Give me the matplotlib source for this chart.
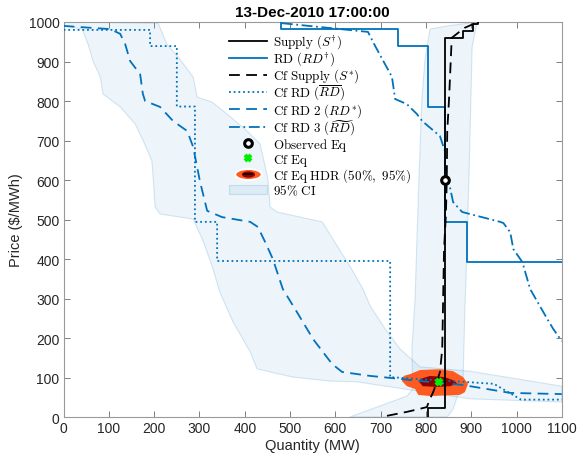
import numpy as np
import matplotlib.pyplot as plt
from matplotlib.lines import Line2D
from matplotlib.patches import Patch
from matplotlib.markers import MarkerStyle
from matplotlib.transforms import Affine2D
from matplotlib.legend_handler import HandlerTuple

plt.rcParams['font.family'] = ['Liberation Sans', 'DejaVu Sans']
plt.rcParams['mathtext.fontset'] = 'cm'

# ---- data (MW, $/MWh) ----
supply_q = [805, 805, 842, 842, 882, 882, 904, 904, 915, 915]
supply_p = [0, 23, 23, 960, 960, 978, 978, 995, 995, 1010]

rd_q = [480, 480, 739, 739, 805, 805, 842, 842, 891, 891, 1100]
rd_p = [1010, 982, 982, 939, 939, 786, 786, 494, 494, 393, 393]

cf_supply_q = [714, 758, 802, 809, 816, 824, 831, 836, 838, 840, 844, 846, 847, 851, 857, 885, 915]
cf_supply_p = [3, 13, 25, 46, 63, 89, 114, 172, 300, 425, 509, 600, 722, 805, 960, 985, 1000]

cf_rd_q = [0, 191, 191, 250, 250, 290, 290, 339, 339, 721, 721, 800, 870, 950, 1010, 1100]
cf_rd_p = [980, 980, 939, 939, 786, 786, 494, 494, 395, 395, 101, 95, 90, 84, 44, 44]

cf_rd2_q = [0, 103, 125, 136, 147, 169, 175, 180, 213, 242, 273, 286, 301, 317, 350, 412, 429,
            445, 462, 484, 515, 551, 593, 615, 677, 721, 787, 882, 986, 1100]
cf_rd2_p = [990, 982, 970, 944, 901, 868, 818, 800, 785, 749, 724, 684, 597, 522, 506, 494, 481,
            443, 400, 324, 266, 197, 134, 114, 104, 99, 91, 81, 61, 58]

cf_rd3_q = [482, 672, 688, 725, 732, 758, 780, 792, 831, 842, 842, 853, 860, 880, 964, 971, 986,
            993, 1013, 1030, 1068, 1081, 1100]
cf_rd3_p = [997, 975, 939, 861, 805, 792, 767, 749, 711, 673, 600, 582, 544, 519, 494, 491, 468,
            425, 392, 324, 248, 223, 192]

obs_eq = (842, 600)
cf_eq = (829, 89)

# HDR regions (95% outer, 50% inner)
hdr95_q = [766, 787, 832, 860, 882, 893, 886, 875, 809, 783, 776, 758, 747, 751]
hdr95_p = [109, 119, 121, 116, 101, 84, 63, 56, 53, 56, 71, 78, 91, 104]
hdr50_q = [787, 809, 842, 864, 869, 853, 824, 793, 785]
hdr50_p = [96, 104, 101, 91, 84, 78, 76, 78, 89]

# 95% CI bands
ci_d_q = [0, 209, 228, 253, 286, 295, 328, 361, 405, 434, 451, 456, 471, 571, 604, 632, 661, 677,
          710, 743, 787, 897, 1100, 1100, 897, 648, 588, 507, 456, 427, 412, 374, 345, 330, 308,
          286, 213, 202, 198, 195, 176, 158, 125, 87, 81, 65, 54, 41, 0]
ci_d_p = [1000, 997, 944, 911, 861, 810, 797, 767, 724, 691, 603, 532, 519, 494, 433, 382, 324, 281,
          223, 172, 127, 116, 78, 38, 46, 89, 91, 101, 114, 122, 165, 241, 316, 375, 446,
          501, 514, 532, 603, 648, 699, 742, 785, 818, 861, 901, 944, 982, 992]
ci_s_q = [809, 798, 791, 783, 776, 769, 771, 758, 632, 847, 860, 882, 886, 891, 897, 902, 913, 847]
ci_s_p = [982, 906, 805, 552, 299, 172, 71, 53, 0, 0, 20, 96, 273, 443, 696, 937, 1000, 990]

xticks = np.arange(0, 1101, 100)
yticks = np.arange(0, 1001, 100)

blue = '#0072BD'
band_fc = (0.0, 0.447, 0.741, 0.07)
band_ec = (0.0, 0.447, 0.741, 0.16)
orange = '#FF5A1F'
darkred = '#8E0000'

fig = plt.figure(figsize=(5.78, 4.60), dpi=100)
ax = fig.add_axes([0.110, 0.0913, 0.862, 0.8587])

ax.fill(ci_d_q, ci_d_p, fc=band_fc, ec=band_ec, lw=0.8, zorder=1)
ax.fill(ci_s_q, ci_s_p, fc=band_fc, ec=band_ec, lw=0.8, zorder=1)

ax.fill(hdr95_q, hdr95_p, color=orange, lw=0, zorder=2)
ax.fill(hdr50_q, hdr50_p, color=darkred, lw=0, zorder=2.1)

lw = 1.3
ax.plot(rd_q, rd_p, color=blue, lw=lw, zorder=3)
ax.plot(cf_rd_q, cf_rd_p, color=blue, lw=lw, ls=(0, (1, 1.6)), zorder=3)
ax.plot(cf_rd2_q, cf_rd2_p, color=blue, lw=lw, ls=(0, (6, 3.5)), zorder=3)
ax.plot(cf_rd3_q, cf_rd3_p, color=blue, lw=lw, ls=(0, (6, 2, 1, 2)), zorder=3)
ax.plot(supply_q, supply_p, color='black', lw=lw, zorder=4)
ax.plot(cf_supply_q, cf_supply_p, color='black', lw=lw, ls=(0, (6, 3.5)), zorder=4)

ax.plot(*obs_eq, marker='o', ms=5.5, mfc='white', mec='black', mew=2.2, zorder=5)
ax.plot(*cf_eq, marker='x', ms=5, mec='#00EE00', mew=3, zorder=5)

ax.set_xlim(0, 1100)
ax.set_ylim(0, 1000)
ax.set_xticks(xticks)
ax.set_yticks(yticks)
ax.tick_params(direction='in', top=True, right=True, length=4, width=0.7,
               color='#7f7f7f', labelsize=10, labelcolor='#262626', pad=3)
for s in ax.spines.values():
    s.set_color('#9a9a9a')
    s.set_linewidth(0.8)

ax.set_title('13-Dec-2010 17:00:00', fontsize=11, fontweight='bold', pad=4)
ax.set_xlabel('Quantity (MW)', fontsize=10.5, color='#262626', labelpad=2)
ax.set_ylabel('Price (\\$/MWh)', fontsize=10.5, color='#262626', labelpad=4)

# legend handles
ell = MarkerStyle('o', transform=Affine2D().scale(2.4, 1.0))
h_hdr = (Line2D([], [], ls='none', marker=ell, ms=8, mfc=orange, mec='white', mew=1.5),
         Line2D([], [], ls='none', marker=ell, ms=3.5, mfc=darkred, mec=darkred),
         Line2D([], [], ls='none', marker='_', ms=7, mec='black', mew=1.2))
handles = [
    Line2D([], [], color='black', lw=lw),
    Line2D([], [], color=blue, lw=lw),
    Line2D([], [], color='black', lw=lw, ls=(0, (6, 3.5))),
    Line2D([], [], color=blue, lw=lw, ls=(0, (1, 1.6))),
    Line2D([], [], color=blue, lw=lw, ls=(0, (6, 3.5))),
    Line2D([], [], color=blue, lw=lw, ls=(0, (6, 2, 1, 2))),
    Line2D([], [], ls='none', marker='o', ms=5.5, mfc='white', mec='black', mew=2.2),
    Line2D([], [], ls='none', marker='x', ms=5, mec='#00EE00', mew=3),
    h_hdr,
    Patch(fc=band_fc, ec=band_ec, lw=0.8),
]
labels = [
    r'$\mathrm{Supply}\ (S^{\dagger})$',
    r'$\mathrm{RD}\ (RD^{\dagger})$',
    r'$\mathrm{Cf\ Supply}\ (S^{*})$',
    r'$\mathrm{Cf\ RD}\ (\overline{RD})$',
    r'$\mathrm{Cf\ RD\ 2}\ (RD^{*})$',
    r'$\mathrm{Cf\ RD\ 3}\ (\widetilde{RD})$',
    r'$\mathrm{Observed\ Eq}$',
    r'$\mathrm{Cf\ Eq}$',
    r'$\mathrm{Cf\ Eq\ HDR\ (50\%,\ 95\%)}$',
    r'$\mathrm{95\%\ CI}$',
]
ax.legend(handles, labels, loc='upper left', bbox_to_anchor=(0.322, 0.985), frameon=False,
          fontsize=9.4, handlelength=2.9, handletextpad=0.45, labelspacing=-0.1,
          borderaxespad=0, handler_map={tuple: HandlerTuple(ndivide=1, pad=0)})

fig.savefig('out.png', dpi=100)
